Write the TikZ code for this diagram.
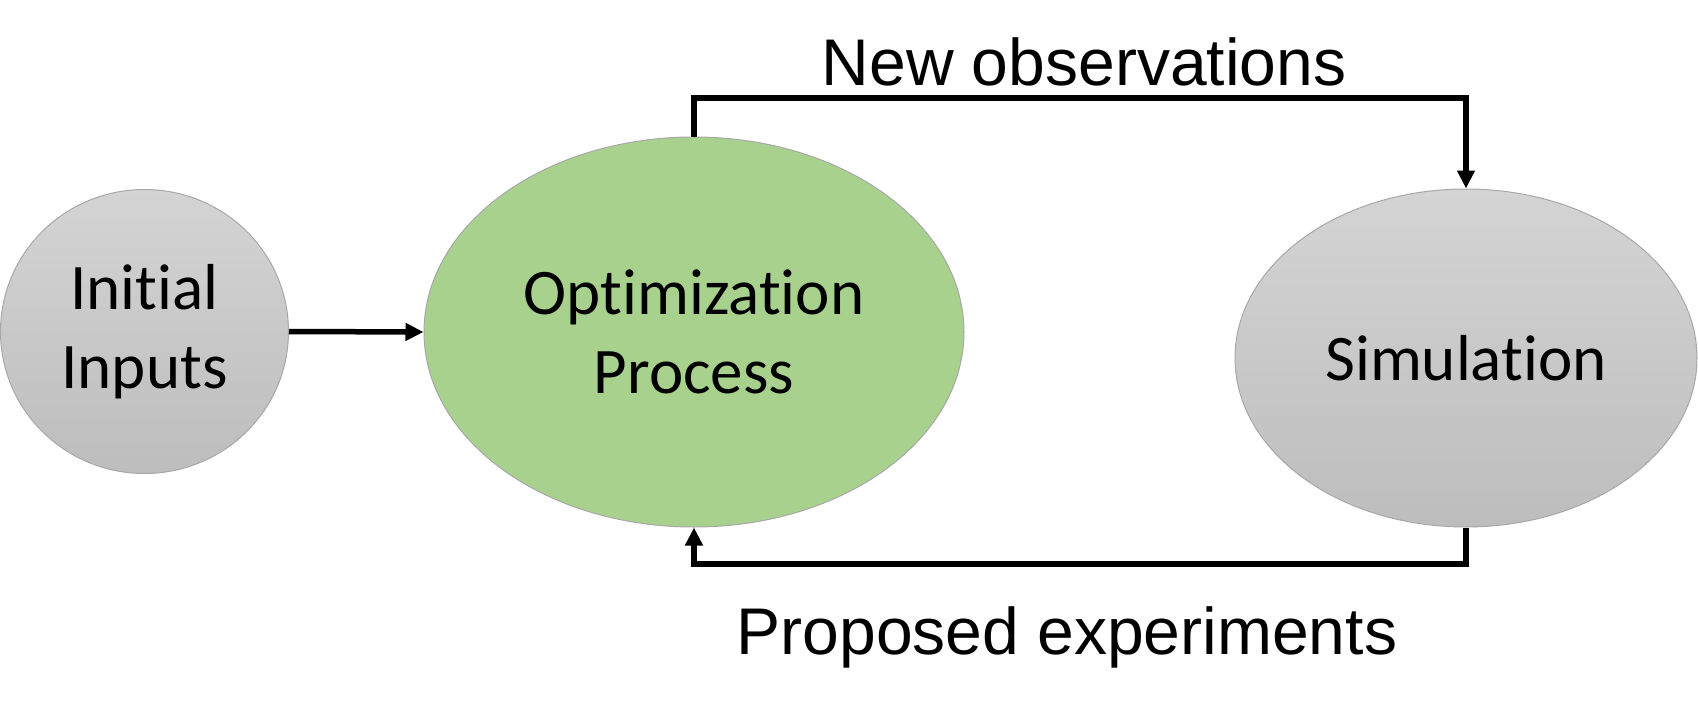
\documentclass[tikz,border=0pt]{standalone}
\usepackage{fontspec}
\setmainfont{Carlito}[Ligatures={NoCommon}]
\newfontfamily\arialfont{Liberation Sans}
\usetikzlibrary{arrows.meta,shapes.geometric}
\definecolor{gtop}{HTML}{D4D4D4}
\definecolor{gbot}{HTML}{BDBDBD}
\definecolor{gfill}{HTML}{A9D18E}
\definecolor{edgegray}{HTML}{A8A8A8}
\tikzset{
  bubble/.style={ellipse, inner sep=0pt, draw=edgegray, line width=1pt,
    align=center, font=\fontsize{65}{79}\selectfont},
  graybub/.style={bubble, top color=gtop, bottom color=gbot},
  greenbub/.style={bubble, fill=gfill},
  conn/.style={line width=5.5pt, line join=miter, draw=black,
    -{Triangle[length=18pt,width=17pt]}},
  lbl/.style={font=\arialfont\fontsize{66}{79}\selectfont, inner sep=0pt, anchor=base}
}
\begin{document}
\begin{tikzpicture}[x=1pt,y=-1pt]
\useasboundingbox (0,0) rectangle (1698,709);
\node[graybub, minimum width=288pt, minimum height=284pt] (init) at (144.5,331.5) {Initial\\Inputs};
\node[greenbub, minimum width=540pt, minimum height=390pt] (opt) at (694,332) {Optimization\\Process};
\node[graybub, minimum width=462pt, minimum height=338pt] (sim) at (1466,358) {Simulation};
\coordinate (topy) at (0,98);
\coordinate (boty) at (0,564);
\draw[conn] (init.east) -- (opt.west);
\draw[conn] (opt.north) -- (opt.north |- topy) -| (sim.north);
\draw[conn] (sim.south) -- (sim.south |- boty) -| (opt.south);
\node[lbl] (newobs) at (1084,85) {New observations};
\node[lbl] (propexp) at (1067,654) {Proposed experiments};
\end{tikzpicture}
\end{document}
